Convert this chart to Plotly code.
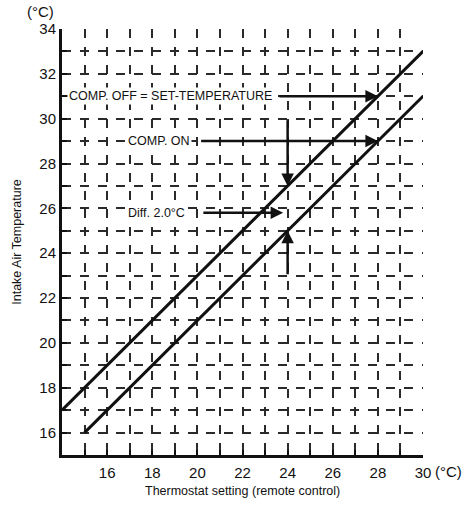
import plotly.graph_objects as go

# Thermostat setting vs intake air temperature: compressor switching lines
setting_off = [14, 30]
temp_off = [17, 33]          # COMP. OFF = set temperature line
setting_on = [15, 30]
temp_on = [16, 31]           # COMP. ON line (2.0 °C below)

x_ticks = list(range(14, 31))
x_labels = [str(v) if (v % 2 == 0 and v >= 16) else "" for v in x_ticks]
y_ticks = list(range(15, 35))
y_labels = [str(v) if (v % 2 == 0 and v >= 16) else "" for v in y_ticks]

FONT = "Liberation Sans, Arial, sans-serif"
INK = "#111111"

fig = go.Figure()
fig.add_trace(go.Scatter(x=setting_off, y=temp_off, mode="lines",
                         line=dict(color=INK, width=3), showlegend=False))
fig.add_trace(go.Scatter(x=setting_on, y=temp_on, mode="lines",
                         line=dict(color=INK, width=3), showlegend=False))

axis_common = dict(
    showline=True, linecolor=INK, linewidth=3,
    showgrid=True, gridcolor="#2a2a2a", gridwidth=1.5, griddash="9px,9px",
    zeroline=False, ticks="inside", ticklen=5, tickwidth=1.5, tickcolor=INK,
    tickfont=dict(family=FONT, size=15, color=INK), automargin=False,
)

fig.update_xaxes(range=[14, 30], tickmode="array", tickvals=x_ticks, ticktext=x_labels,
                 ticklabelstandoff=2, **axis_common)
fig.update_yaxes(range=[15, 34], tickmode="array", tickvals=y_ticks, ticktext=y_labels,
                 title=dict(text="Intake Air Temperature",
                            font=dict(family=FONT, size=12.5, color=INK)),
                 **axis_common)

# x-axis title, placed just under the tick labels
fig.add_annotation(xref="paper", yref="paper", x=0.5, y=-0.085, xanchor="center",
                   yanchor="middle", showarrow=False,
                   text="Thermostat setting (remote control)",
                   font=dict(family=FONT, size=12.5, color=INK))

arrow = dict(showarrow=True, arrowhead=2, arrowsize=1, arrowwidth=2.5, arrowcolor=INK,
             axref="x", ayref="y", text="", standoff=0)
# horizontal arrows to the switching lines
fig.add_annotation(x=28, y=31, ax=23.57, ay=31, **arrow)
fig.add_annotation(x=28, y=29, ax=20.1, ay=29, **arrow)
fig.add_annotation(x=23.8, y=25.8, ax=20.2, ay=25.8, **arrow)
# vertical arrows marking the 2.0 °C differential at setting 24
fig.add_annotation(x=24, y=27, ax=24, ay=30, **arrow)
fig.add_annotation(x=24, y=25, ax=24, ay=23, **arrow)

label = dict(showarrow=False, bgcolor="white", borderpad=1,
             font=dict(family=FONT, size=12.5, color=INK))
fig.add_annotation(x=18.83, y=31, text="COMP. OFF = SET-TEMPERATURE", **label)
fig.add_annotation(x=18.32, y=29, text="COMP. ON", **label)
fig.add_annotation(x=18.19, y=25.8, text="Diff. 2.0°C", **label)

# unit labels
fig.add_annotation(xref="paper", yref="paper", x=-0.06, y=1.0, yshift=18,
                   xanchor="center", yanchor="middle", text="(°C)", showarrow=False,
                   font=dict(family=FONT, size=15, color=INK))
fig.add_annotation(xref="x", yref="paper", x=30, y=0, xshift=10, yshift=-16,
                   xanchor="left", yanchor="middle", text="(°C)", showarrow=False,
                   font=dict(family=FONT, size=15, color=INK))

fig.update_layout(
    width=475, height=506,
    margin=dict(l=62, r=52, t=29, b=51),
    paper_bgcolor="white", plot_bgcolor="white",
    font=dict(family=FONT, color=INK),
)

fig.write_html("out.html")
